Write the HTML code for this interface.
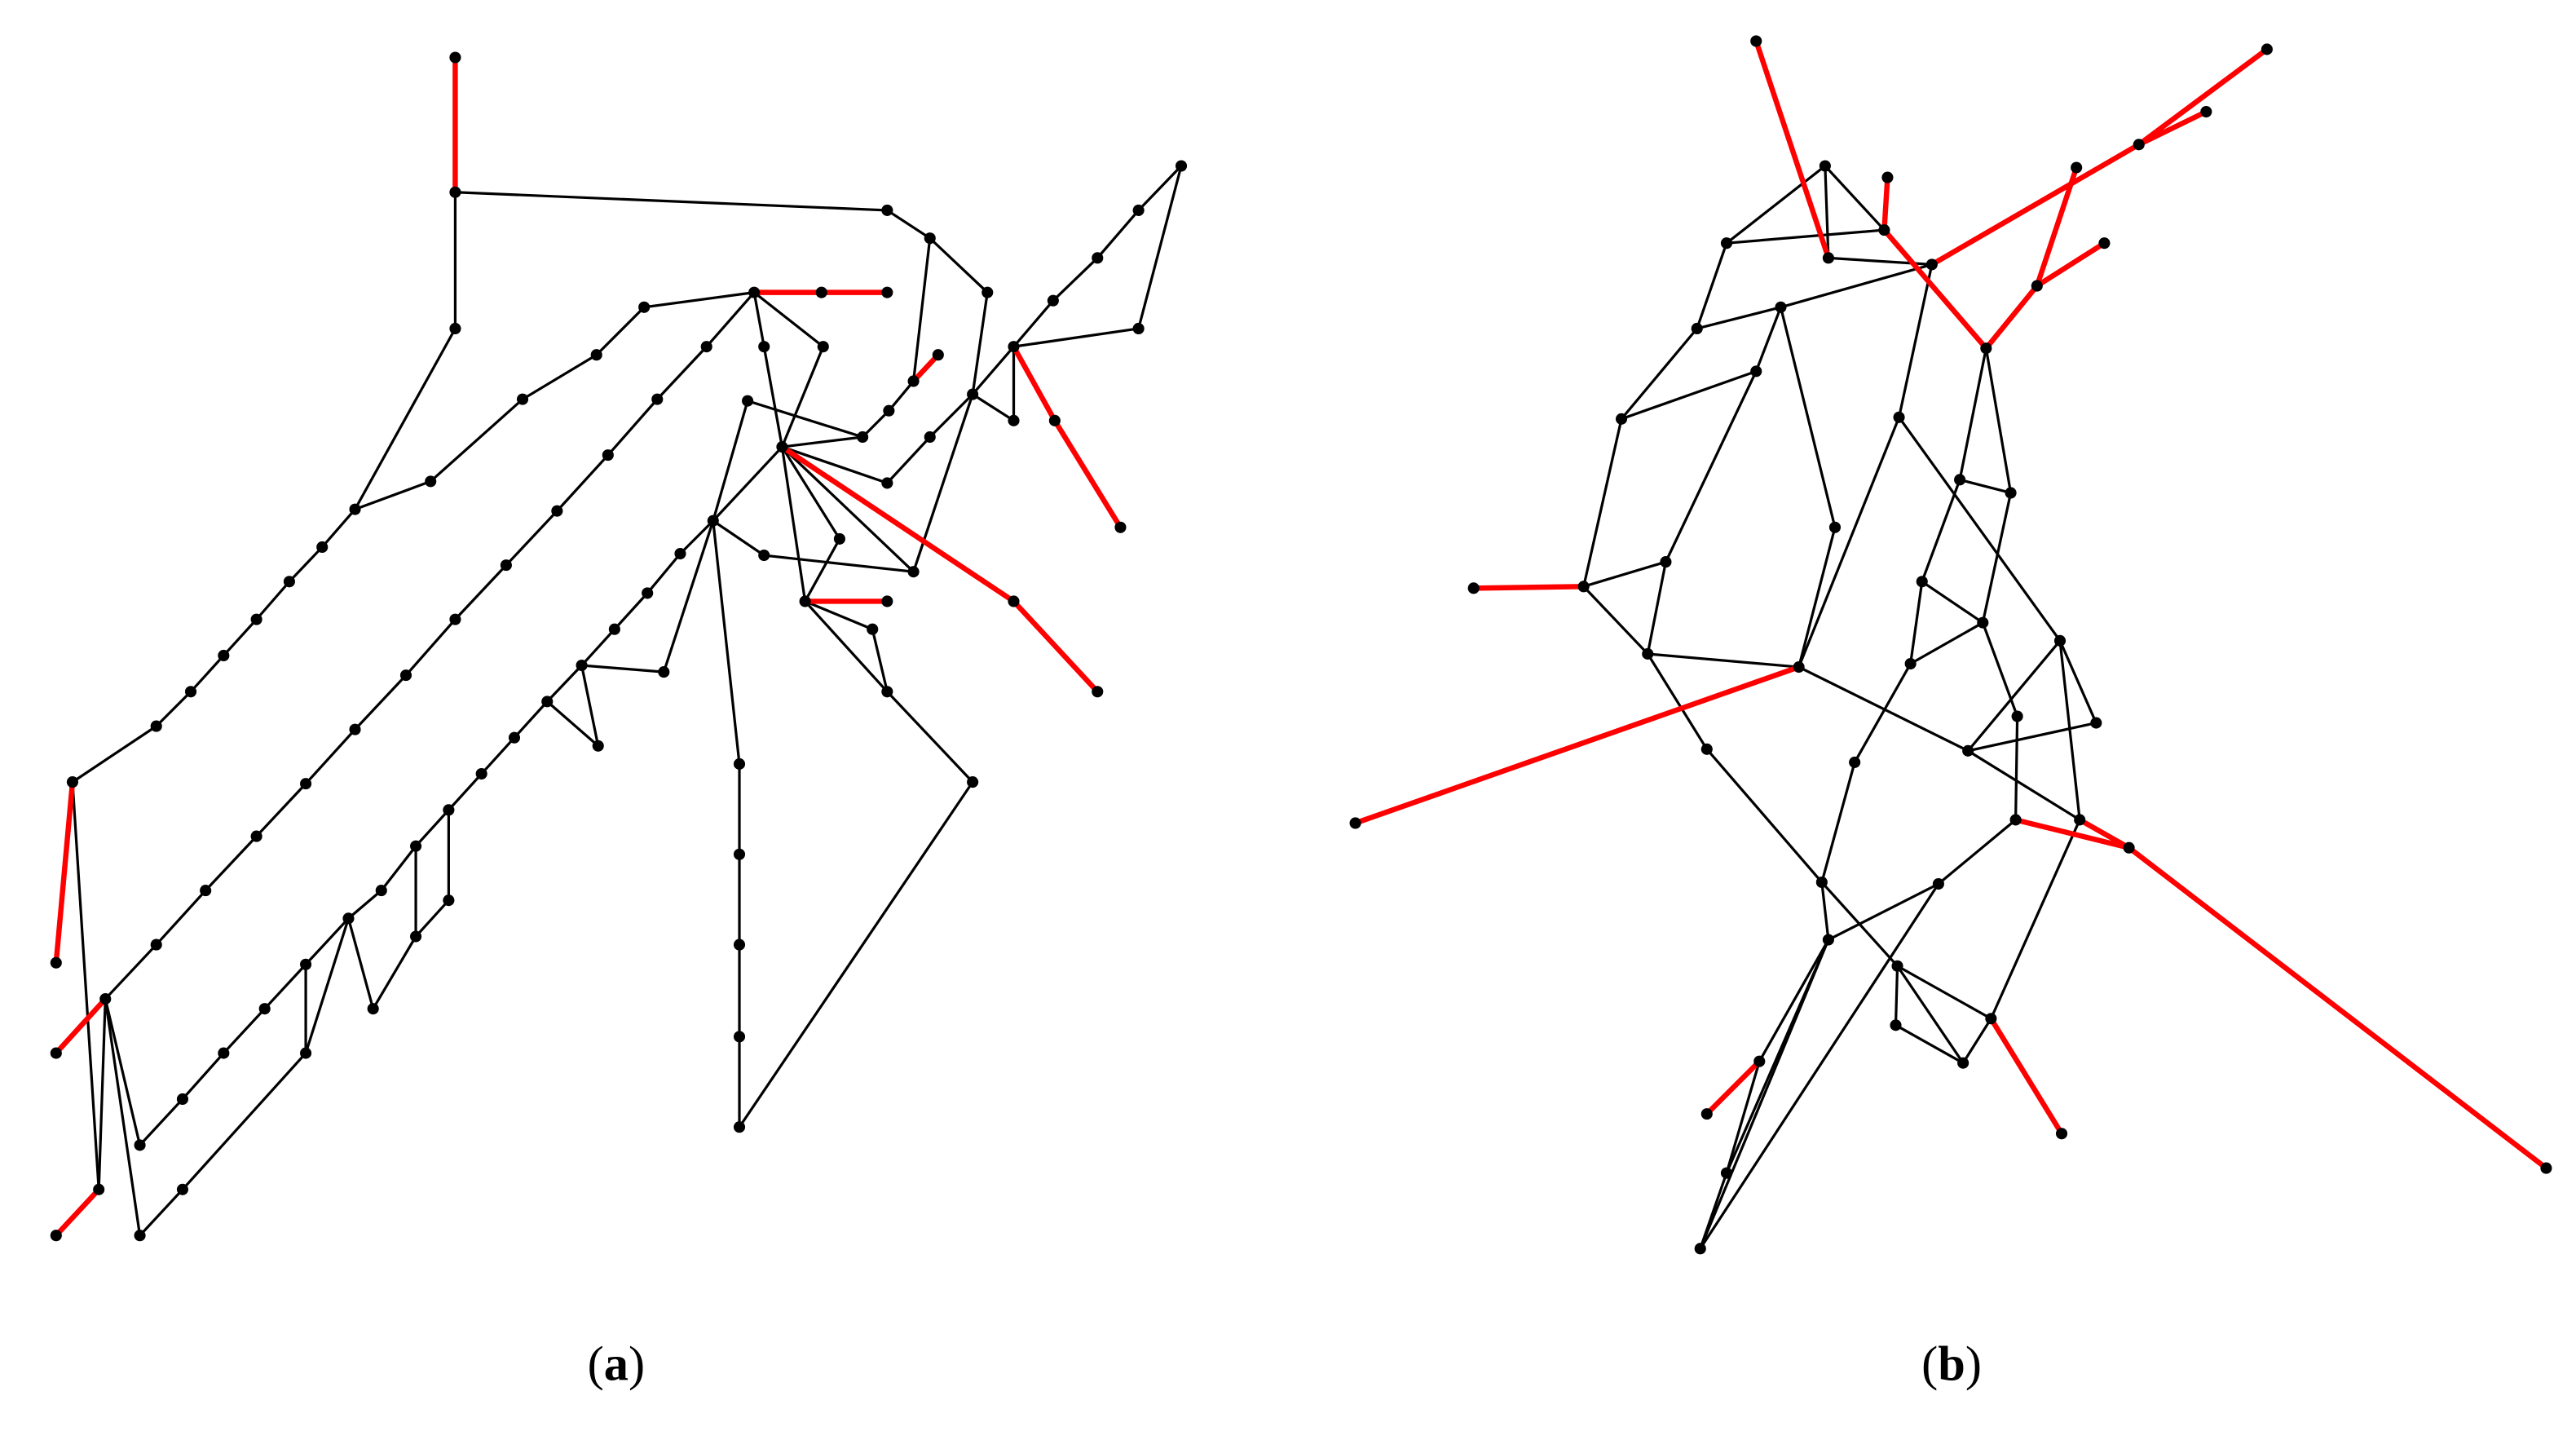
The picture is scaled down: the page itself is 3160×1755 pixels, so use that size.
<!DOCTYPE html>
<html><head><meta charset="utf-8"><style>html,body{margin:0;padding:0;background:#fff}svg{display:block}</style></head>
<body>
<svg width="3160" height="1755" viewBox="0 0 1568 871" xmlns="http://www.w3.org/2000/svg">
<g stroke="#000" stroke-width="1.6" fill="none" stroke-linecap="round">
<polyline points="277,117 540,128 566,145 601,178 592,240 556,348"/>
<polyline points="566,145 556,232"/>
<polyline points="277,117 277,200 216,310 262,293 318,243 363,216 392,187 459,178"/>
<polyline points="216,310 196,333 176,354 156,377 136,399 116,421 95,442 44,476 60,724"/>
<polyline points="459,178 430,211 400,243 370,277 339,311 308,344 277,377 247,411 216,444 186,477 156,509 125,542 95,575 64,608"/>
<polyline points="64,608 60,724"/><polyline points="64,608 85,697"/><polyline points="64,608 85,752"/>
<polyline points="459,178 465,211 476,272"/><polyline points="459,178 501,211 476,272"/>
<polyline points="476,272 434,317 414,337 394,361 374,383 354,405 333,427 313,449 293,471 273,493 253,515 232,542 212,559 186,587 161,614 136,641 111,669 85,697"/>
<polyline points="85,752 111,724 186,641 212,559 227,614 253,570 273,548 273,493"/>
<polyline points="253,515 253,570"/><polyline points="186,587 186,641"/>
<polyline points="434,317 404,409 354,405 364,454 333,427"/>
<polyline points="434,317 450,465 450,520 450,575 450,631 450,686 592,476 540,421"/>
<polyline points="434,317 465,338 556,348"/>
<polyline points="455,244 434,317"/>
<polyline points="476,272 490,366 531,383 540,421 490,366"/>
<polyline points="476,272 511,328 490,366"/>
<polyline points="476,272 540,294"/><polyline points="476,272 525,266"/><polyline points="476,272 556,348"/>
<polyline points="455,244 525,266 541,250 556,232"/>
<polyline points="540,294 566,266 592,240 617,211 641,183 668,157 693,128 719,101 693,200 617,211 617,256"/>
<polyline points="592,240 617,256"/>
</g>
<g stroke="#f00" stroke-width="3.2" fill="none" stroke-linecap="round">
<line x1="277" y1="35" x2="277" y2="117"/>
<polyline points="459,178 500,178 540,178"/>
<line x1="44" y1="476" x2="34" y2="586"/>
<line x1="60" y1="724" x2="34" y2="752"/>
<line x1="64" y1="608" x2="34" y2="641"/>
<polyline points="476,272 617,366 668,421"/>
<polyline points="617,211 642,256 682,321"/>
<line x1="556" y1="232" x2="571" y2="216"/>
<line x1="490" y1="366" x2="540" y2="366"/>
</g>
<g fill="#000">
<circle cx="277" cy="35" r="3.5"/><circle cx="277" cy="117" r="3.5"/><circle cx="540" cy="128" r="3.5"/><circle cx="566" cy="145" r="3.5"/><circle cx="601" cy="178" r="3.5"/><circle cx="556" cy="348" r="3.5"/><circle cx="556" cy="232" r="3.5"/><circle cx="277" cy="200" r="3.5"/><circle cx="216" cy="310" r="3.5"/><circle cx="262" cy="293" r="3.5"/><circle cx="318" cy="243" r="3.5"/><circle cx="363" cy="216" r="3.5"/><circle cx="392" cy="187" r="3.5"/><circle cx="459" cy="178" r="3.5"/><circle cx="500" cy="178" r="3.5"/><circle cx="540" cy="178" r="3.5"/>
<circle cx="196" cy="333" r="3.5"/><circle cx="176" cy="354" r="3.5"/><circle cx="156" cy="377" r="3.5"/><circle cx="136" cy="399" r="3.5"/><circle cx="116" cy="421" r="3.5"/><circle cx="95" cy="442" r="3.5"/><circle cx="44" cy="476" r="3.5"/><circle cx="34" cy="586" r="3.5"/><circle cx="60" cy="724" r="3.5"/><circle cx="34" cy="752" r="3.5"/>
<circle cx="430" cy="211" r="3.5"/><circle cx="400" cy="243" r="3.5"/><circle cx="370" cy="277" r="3.5"/><circle cx="339" cy="311" r="3.5"/><circle cx="308" cy="344" r="3.5"/><circle cx="277" cy="377" r="3.5"/><circle cx="247" cy="411" r="3.5"/><circle cx="216" cy="444" r="3.5"/><circle cx="186" cy="477" r="3.5"/><circle cx="156" cy="509" r="3.5"/><circle cx="125" cy="542" r="3.5"/><circle cx="95" cy="575" r="3.5"/><circle cx="64" cy="608" r="3.5"/><circle cx="34" cy="641" r="3.5"/><circle cx="85" cy="697" r="3.5"/><circle cx="85" cy="752" r="3.5"/>
<circle cx="465" cy="211" r="3.5"/><circle cx="501" cy="211" r="3.5"/><circle cx="476" cy="272" r="3.5"/><circle cx="434" cy="317" r="3.5"/><circle cx="414" cy="337" r="3.5"/><circle cx="394" cy="361" r="3.5"/><circle cx="374" cy="383" r="3.5"/><circle cx="354" cy="405" r="3.5"/><circle cx="333" cy="427" r="3.5"/><circle cx="313" cy="449" r="3.5"/><circle cx="293" cy="471" r="3.5"/><circle cx="273" cy="493" r="3.5"/><circle cx="253" cy="515" r="3.5"/><circle cx="232" cy="542" r="3.5"/><circle cx="212" cy="559" r="3.5"/><circle cx="186" cy="587" r="3.5"/><circle cx="161" cy="614" r="3.5"/><circle cx="136" cy="641" r="3.5"/><circle cx="111" cy="669" r="3.5"/><circle cx="111" cy="724" r="3.5"/><circle cx="186" cy="641" r="3.5"/><circle cx="227" cy="614" r="3.5"/><circle cx="253" cy="570" r="3.5"/><circle cx="273" cy="548" r="3.5"/>
<circle cx="404" cy="409" r="3.5"/><circle cx="364" cy="454" r="3.5"/><circle cx="450" cy="465" r="3.5"/><circle cx="450" cy="520" r="3.5"/><circle cx="450" cy="575" r="3.5"/><circle cx="450" cy="631" r="3.5"/><circle cx="450" cy="686" r="3.5"/><circle cx="592" cy="476" r="3.5"/><circle cx="540" cy="421" r="3.5"/><circle cx="465" cy="338" r="3.5"/><circle cx="490" cy="366" r="3.5"/><circle cx="540" cy="366" r="3.5"/><circle cx="531" cy="383" r="3.5"/><circle cx="511" cy="328" r="3.5"/><circle cx="540" cy="294" r="3.5"/><circle cx="525" cy="266" r="3.5"/><circle cx="455" cy="244" r="3.5"/><circle cx="541" cy="250" r="3.5"/><circle cx="571" cy="216" r="3.5"/><circle cx="566" cy="266" r="3.5"/><circle cx="592" cy="240" r="3.5"/><circle cx="617" cy="211" r="3.5"/><circle cx="641" cy="183" r="3.5"/><circle cx="668" cy="157" r="3.5"/><circle cx="693" cy="128" r="3.5"/><circle cx="719" cy="101" r="3.5"/><circle cx="693" cy="200" r="3.5"/><circle cx="617" cy="256" r="3.5"/><circle cx="642" cy="256" r="3.5"/><circle cx="682" cy="321" r="3.5"/><circle cx="617" cy="366" r="3.5"/><circle cx="668" cy="421" r="3.5"/>
</g>
<g stroke="#000" stroke-width="1.6" fill="none" stroke-linecap="round">
<polyline points="1113,157 1111,101 1147,140 1051,148 1111,101"/>
<polyline points="1051,148 1033,200 987,255 964,357 1003,398 1039,456 1109,537 1155,588 1212,620"/>
<polyline points="1109,537 1113,572 1071,646 1051,714 1035,760 1113,572"/>
<polyline points="1113,572 1051,714"/>
<polyline points="1033,200 1084,187 1176,161 1156,254 1095,406 1198,457 1266,499"/>
<polyline points="1113,157 1176,161"/>
<polyline points="1084,187 1069,226 1014,342 964,357"/><polyline points="1069,226 987,255"/>
<polyline points="1014,342 1003,398"/>
<polyline points="1084,187 1117,321 1095,406"/><polyline points="1095,406 1003,398"/>
<polyline points="1156,254 1254,390"/>
<polyline points="1207,379 1228,436 1227,499"/>
<polyline points="1209,212 1193,292 1170,354 1163,404 1129,464 1109,537"/>
<polyline points="1209,212 1224,300 1207,379 1163,404"/><polyline points="1193,292 1224,300"/><polyline points="1170,354 1207,379"/>
<polyline points="1254,390 1198,457 1276,440 1254,390 1266,499 1212,620"/>
<polyline points="1113,572 1180,538 1227,499"/>
<polyline points="1180,538 1035,760"/>
<polyline points="1155,588 1154,624 1195,647 1155,588"/><polyline points="1195,647 1212,620"/>
</g>
<g stroke="#f00" stroke-width="3.2" fill="none" stroke-linecap="round">
<line x1="1069" y1="25" x2="1113" y2="157"/>
<line x1="1149" y1="108" x2="1147" y2="140"/>
<line x1="1147" y1="140" x2="1209" y2="212"/>
<polyline points="1380,30 1302,88 1176,161"/>
<line x1="1343" y1="68" x2="1302" y2="88"/>
<polyline points="1264,102 1240,174 1209,212"/>
<line x1="1281" y1="148" x2="1240" y2="174"/>
<line x1="897" y1="358" x2="964" y2="357"/>
<line x1="1095" y1="406" x2="825" y2="501"/>
<polyline points="1227,499 1296,516 1550,711"/>
<line x1="1266" y1="499" x2="1296" y2="516"/>
<line x1="1212" y1="620" x2="1255" y2="690"/>
<line x1="1071" y1="646" x2="1039" y2="678"/>
</g>
<g fill="#000">
<circle cx="1069" cy="25" r="3.5"/><circle cx="1113" cy="157" r="3.5"/><circle cx="1111" cy="101" r="3.5"/><circle cx="1147" cy="140" r="3.5"/><circle cx="1149" cy="108" r="3.5"/><circle cx="1051" cy="148" r="3.5"/><circle cx="1209" cy="212" r="3.5"/><circle cx="1380" cy="30" r="3.5"/><circle cx="1302" cy="88" r="3.5"/><circle cx="1343" cy="68" r="3.5"/><circle cx="1176" cy="161" r="3.5"/><circle cx="1264" cy="102" r="3.5"/><circle cx="1240" cy="174" r="3.5"/><circle cx="1281" cy="148" r="3.5"/>
<circle cx="1033" cy="200" r="3.5"/><circle cx="987" cy="255" r="3.5"/><circle cx="964" cy="357" r="3.5"/><circle cx="897" cy="358" r="3.5"/><circle cx="1003" cy="398" r="3.5"/><circle cx="1039" cy="456" r="3.5"/><circle cx="1109" cy="537" r="3.5"/><circle cx="1113" cy="572" r="3.5"/><circle cx="1071" cy="646" r="3.5"/><circle cx="1039" cy="678" r="3.5"/><circle cx="1051" cy="714" r="3.5"/><circle cx="1035" cy="760" r="3.5"/>
<circle cx="1084" cy="187" r="3.5"/><circle cx="1069" cy="226" r="3.5"/><circle cx="1014" cy="342" r="3.5"/><circle cx="1117" cy="321" r="3.5"/><circle cx="1095" cy="406" r="3.5"/><circle cx="825" cy="501" r="3.5"/><circle cx="1156" cy="254" r="3.5"/><circle cx="1198" cy="457" r="3.5"/><circle cx="1296" cy="516" r="3.5"/><circle cx="1550" cy="711" r="3.5"/>
<circle cx="1193" cy="292" r="3.5"/><circle cx="1224" cy="300" r="3.5"/><circle cx="1170" cy="354" r="3.5"/><circle cx="1207" cy="379" r="3.5"/><circle cx="1163" cy="404" r="3.5"/><circle cx="1129" cy="464" r="3.5"/><circle cx="1228" cy="436" r="3.5"/><circle cx="1227" cy="499" r="3.5"/><circle cx="1254" cy="390" r="3.5"/><circle cx="1276" cy="440" r="3.5"/><circle cx="1266" cy="499" r="3.5"/><circle cx="1212" cy="620" r="3.5"/><circle cx="1255" cy="690" r="3.5"/><circle cx="1180" cy="538" r="3.5"/><circle cx="1155" cy="588" r="3.5"/><circle cx="1154" cy="624" r="3.5"/><circle cx="1195" cy="647" r="3.5"/>
</g>
<text x="375" y="840" text-anchor="middle" font-family="Liberation Serif, serif" font-size="30">(<tspan font-weight="bold">a</tspan>)</text>
<text x="1188" y="840" text-anchor="middle" font-family="Liberation Serif, serif" font-size="30">(<tspan font-weight="bold">b</tspan>)</text>
</svg>
</body></html>
